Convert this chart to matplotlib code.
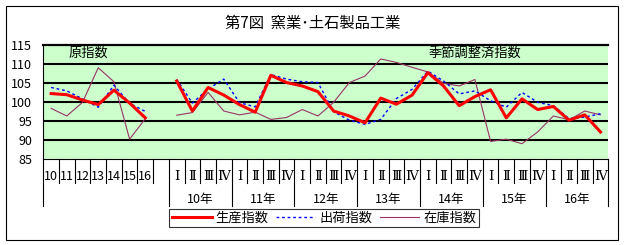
import matplotlib
matplotlib.use("Agg")
import matplotlib.pyplot as plt
from matplotlib.patches import Rectangle
import numpy as np

plt.rcParams['font.family'] = ['Noto Sans CJK JP', 'DejaVu Sans']

# 原指数 (年)
years = ['10', '11', '12', '13', '14', '15', '16']
prod_year = [102.3, 102.0, 100.6, 99.4, 103.2, 99.8, 95.9]
ship_year = [103.9, 103.0, 100.9, 98.7, 104.5, 99.7, 97.6]
inv_year = [98.4, 96.4, 100.0, 109.1, 105.4, 90.3, 95.7]

# 季節調整済指数 (四半期, 10年Ⅰ～16年Ⅳ)
quarters = ['Ⅰ', 'Ⅱ', 'Ⅲ', 'Ⅳ']
year_groups = ['10年', '11年', '12年', '13年', '14年', '15年', '16年']
prod_q = [105.6, 97.7, 103.9, 101.9, 99.4, 97.4, 107.1, 105.2,
          104.3, 102.8, 97.7, 96.4, 94.6, 101.1, 99.5, 101.9,
          107.8, 104.3, 99.1, 101.5, 103.3, 95.9, 100.9, 98.1,
          98.9, 95.3, 96.7, 92.2]
ship_q = [106.0, 99.8, 103.5, 106.1, 99.9, 98.8, 107.3, 106.1,
          105.4, 105.2, 97.5, 95.3, 94.2, 95.5, 101.0, 103.4,
          108.2, 105.6, 102.2, 103.0, 100.4, 98.7, 102.6, 100.0,
          99.1, 95.7, 96.1, 97.0]
inv_q = [96.6, 97.3, 102.6, 97.7, 96.7, 97.4, 95.5, 96.0,
         98.1, 96.4, 100.0, 105.2, 106.9, 111.4, 110.5, 109.2,
         108.0, 105.0, 104.3, 106.0, 89.7, 90.3, 89.1, 92.2,
         96.4, 95.4, 97.7, 96.7]

W, H = 624, 245
fig = plt.figure(figsize=(W / 100, H / 100), dpi=100)
ax = fig.add_axes([43.3 / W, (H - 159.3) / H, 565 / W, 114 / H])
ax.set_facecolor('#CCFFCC')

x_year = np.arange(len(years))
x_q = np.arange(len(prod_q)) + len(years) + 1

red, blue, plum = '#FF0000', '#0000FF', '#993366'
l1, = ax.plot(x_year, prod_year, color=red, lw=2.2, zorder=5, label='生産指数')
ax.plot(x_q, prod_q, color=red, lw=2.2, zorder=5)
l2, = ax.plot(x_year, ship_year, color=blue, lw=1.0, dashes=(2, 2), zorder=4, label='出荷指数')
ax.plot(x_q, ship_q, color=blue, lw=1.0, dashes=(2, 2), zorder=4)
l3, = ax.plot(x_year, inv_year, color=plum, lw=0.8, zorder=3, label='在庫指数')
ax.plot(x_q, inv_q, color=plum, lw=0.8, zorder=3)

ax.set_xlim(-0.5, x_q[-1] + 0.5)
ax.set_ylim(85, 115)
ax.set_yticks(range(85, 116, 5))
for v in range(90, 115, 5):
    ax.axhline(v, color='black', lw=1.5, zorder=2)
ax.set_xticks([])
ax.tick_params(axis='y', length=0, pad=8, labelsize=9)
ax.spines['right'].set_visible(False)
ax.spines['top'].set_linewidth(1.6)
ax.spines['left'].set_linewidth(0.8)
ax.spines['bottom'].set_linewidth(0.8)

# multi-level category axis
xt = ax.get_xaxis_transform()
short, long_ = 0.208, 0.414
def vline(x, depth):
    ax.plot([x, x], [0, -depth], transform=xt, color='black', lw=0.8, clip_on=False)

for i, lab in enumerate(years):
    ax.text(x_year[i], -0.147, lab, transform=xt, ha='center', va='center', fontsize=9)
    vline(x_year[i] + 0.5, short)
vline(-0.5, long_)
for j, yl in enumerate(year_groups):
    start = x_q[0] + 4 * j
    for k, q in enumerate(quarters):
        ax.text(start + k, -0.147, q, transform=xt, ha='center', va='center',
                fontsize=9.5, family=['DejaVu Serif', 'Noto Sans CJK JP'])
        if k < 3:
            vline(start + k + 0.5, short)
    vline(start - 0.5, long_)
    ax.text(start + 1.5, -0.357, yl, transform=xt, ha='center', va='center', fontsize=9)
vline(x_q[-1] + 0.5, long_)

ax.text(x_year[3] - 0.6, 113, '原指数', ha='center', va='center', fontsize=9.5)
ax.text(x_q[0] + 19.0, 113, '季節調整済指数', ha='center', va='center', fontsize=9.5)

fig.text(313 / W, 1 - 23 / H, '第7図  窯業･土石製品工業', ha='center', va='center', fontsize=11)

leg = fig.legend(handles=[l1, l2, l3], loc='lower left',
                 bbox_to_anchor=(169.3 / W, (H - 227.3) / H), ncol=3,
                 fontsize=9.5, frameon=True, fancybox=False, edgecolor='black',
                 handlelength=3.0, handletextpad=0.3, columnspacing=0.55,
                 borderpad=0.2, borderaxespad=0)
leg.get_frame().set_linewidth(0.8)

fig.add_artist(Rectangle((5.5 / W, (H - 239.5) / H), (618 - 5.5) / W, (239.5 - 6) / H,
                         transform=fig.transFigure, fill=False, lw=0.8, color='black'))

fig.savefig('out.png', dpi=100)
